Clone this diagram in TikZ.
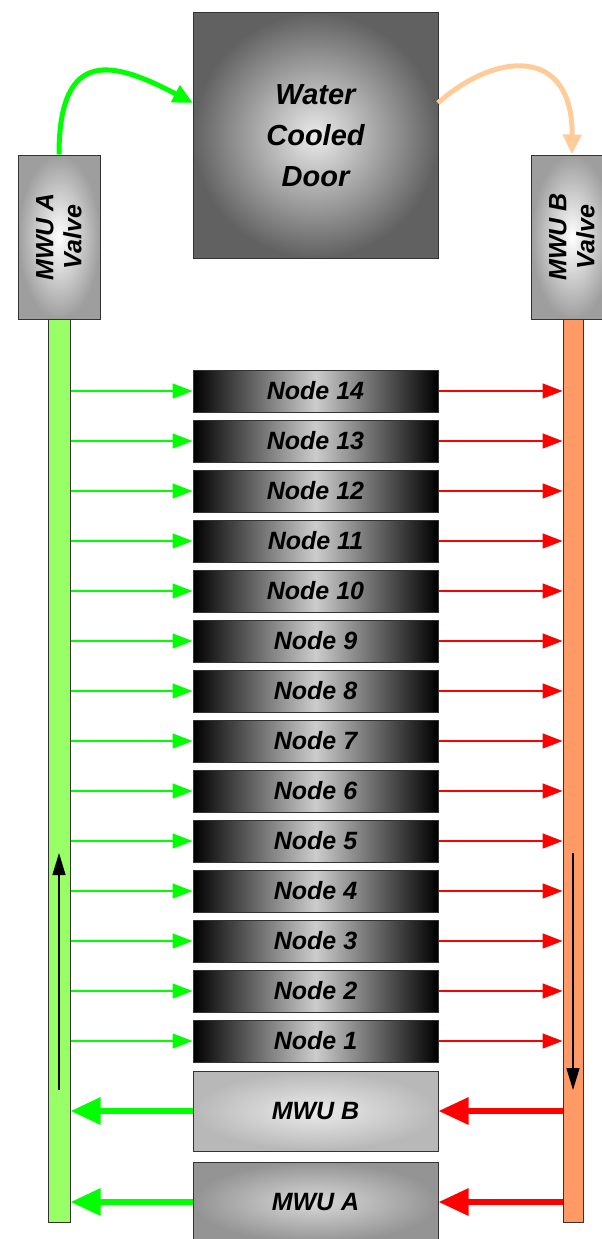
\documentclass[tikz,border=0pt]{standalone}
\usepackage{fontspec}
\setsansfont{Liberation Sans}
\usetikzlibrary{arrows.meta,calc}
\definecolor{pipegreen}{HTML}{99FF66}
\definecolor{pipeorange}{HTML}{FF9966}
\definecolor{feedgreen}{HTML}{00FF00}
\definecolor{returnred}{HTML}{FF0000}
\definecolor{warmpeach}{HTML}{FFCC99}
\definecolor{edge}{HTML}{333333}

\begin{document}
\begin{tikzpicture}[x=1pt, y=-1pt,
  font=\sffamily\bfseries\itshape\fontsize{25}{28}\selectfont,
  box/.style={draw=edge, line width=1pt, inner sep=0pt, align=center},
  rack/.style={box, minimum width=245pt, minimum height=42pt, shading=axis,
    left color=black, right color=black, middle color=white!80!black},
  unit/.style={box, minimum width=245pt, minimum height=80pt, shading=radial},
  valve/.style={box, rotate=90, minimum width=164pt, minimum height=82pt,
    shading=radial, inner color=white, outer color=white!62!black},
  pipe/.style={draw=edge, line width=1pt, inner sep=0pt, minimum height=903pt},
  feed/.style={-{Triangle[length=20pt, width=15pt]}, draw=feedgreen, line width=1.5pt},
  back/.style={-{Triangle[length=20pt, width=15pt]}, draw=returnred, line width=1.5pt},
  feedbig/.style={-{Triangle[length=30pt, width=26pt]}, draw=feedgreen, line width=6pt},
  backbig/.style={-{Triangle[length=30pt, width=26pt]}, draw=returnred, line width=6pt},
  loop/.style={-{Triangle[length=20pt, width=18pt]}, line width=5pt},
  flow/.style={-{Triangle[length=22pt, width=13pt]}, draw=black, line width=1.3pt}
]
\useasboundingbox (0,0) rectangle (602,1239);

% ---------------------------------------------------------------------------
% door and the two valves on top
% ---------------------------------------------------------------------------
\node[box, minimum width=245pt, minimum height=245pt, shading=radial,
  inner color=white!92!black, outer color=white!38!black,
  font=\sffamily\bfseries\itshape\fontsize{29}{41}\selectfont] (door) at (315.5,135.5)
  {Water\\Cooled\\Door};
\node[valve] (valveA) at (59,237) {MWU A\\Valve};
\node[valve] (valveB) at (572,237) {MWU B\\Valve};

\coordinate (doorin) at (193,103);
\coordinate (doorout) at (438,103);
\draw[loop, draw=feedgreen] (valveA.east) .. controls (59,45) and (115,62) .. (doorin);
\draw[loop, draw=warmpeach] (doorout) .. controls (495,52) and (573,45) .. (valveB.east);

% ---------------------------------------------------------------------------
% supply and return pipes
% ---------------------------------------------------------------------------
\node[pipe, fill=pipegreen, minimum width=22pt] (pipeA) at (59,770.5) {};
\node[pipe, fill=pipeorange, minimum width=20pt] (pipeB) at (573,770.5) {};

\coordinate (upA0) at (59,1090);
\coordinate (upA) at (59,853);
\coordinate (downB0) at (573,853);
\coordinate (downB) at (573,1090);
\draw[flow] (upA0) -- (upA);
\draw[flow] (downB0) -- (downB);

% ---------------------------------------------------------------------------
% compute nodes, fed from pipe A and returning to pipe B
% ---------------------------------------------------------------------------
\foreach \i in {1,...,14} {
  \node[rack] (node\i) at (315.5,{1041-(\i-1)*50}) {Node \i};
  \draw[feed] (pipeA.east|-node\i.west) -- (node\i.west);
  \draw[back] (node\i.east) -- (pipeB.west|-node\i.east);
}

% ---------------------------------------------------------------------------
% the two MWUs at the bottom
% ---------------------------------------------------------------------------
\node[unit, inner color=white!92!black, outer color=white!72!black] (mwuB) at (315.5,1111) {MWU B};
\node[unit, inner color=white!85!black, outer color=white!58!black] (mwuA) at (315.5,1202) {MWU A};

\draw[feedbig] (mwuB.west) -- (pipeA.east|-mwuB.west);
\draw[backbig] (pipeB.west|-mwuB.east) -- (mwuB.east);
\draw[feedbig] (mwuA.west) -- (pipeA.east|-mwuA.west);
\draw[backbig] (pipeB.west|-mwuA.east) -- (mwuA.east);

\end{tikzpicture}
\end{document}
